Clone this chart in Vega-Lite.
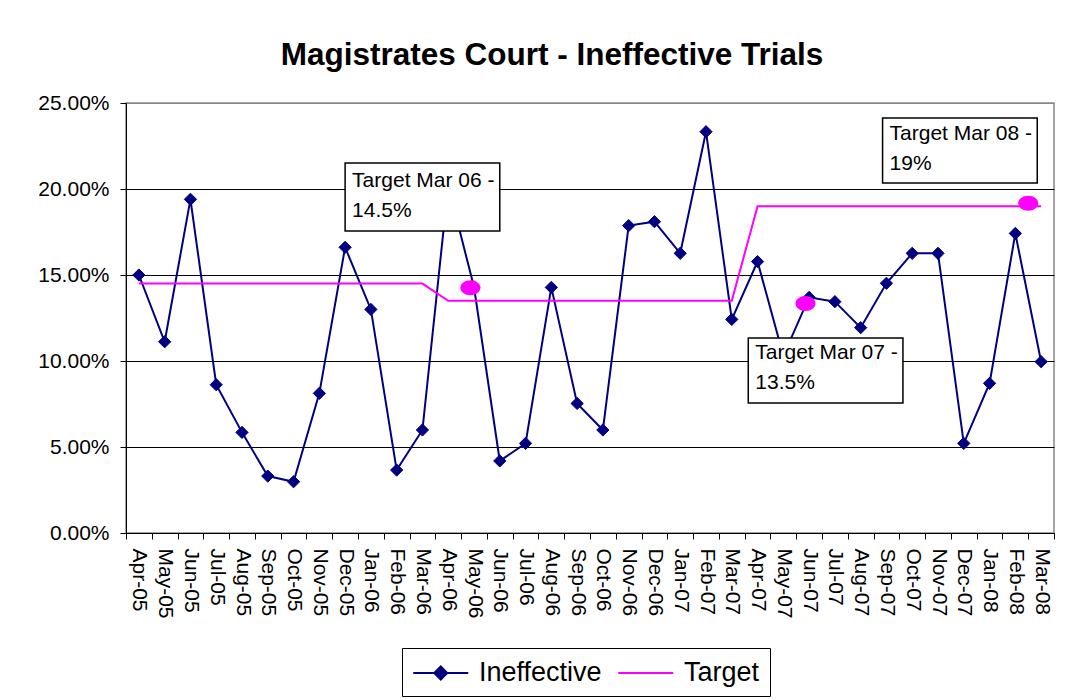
{
  "$schema": "https://vega.github.io/schema/vega-lite/v6.json",
  "width": 928,
  "height": 430,
  "autosize": {"type": "none"},
  "padding": {"left": 126, "top": 103, "right": 22, "bottom": 167},
  "background": "#ffffff",
  "title": {
    "text": "Magistrates Court - Ineffective Trials",
    "font": "Liberation Sans",
    "fontSize": 31.5,
    "fontWeight": "bold",
    "color": "#000000",
    "anchor": "middle",
    "dx": -38,
    "offset": 21
  },
  "config": {
    "view": {"stroke": "#888888", "strokeWidth": 1.5},
    "font": "Liberation Sans"
  },
  "datasets": {
    "trials": [
      {"month": "Apr-05", "series": "Ineffective", "value": 0.150},
      {"month": "May-05", "series": "Ineffective", "value": 0.1112},
      {"month": "Jun-05", "series": "Ineffective", "value": 0.194},
      {"month": "Jul-05", "series": "Ineffective", "value": 0.0862},
      {"month": "Aug-05", "series": "Ineffective", "value": 0.0585},
      {"month": "Sep-05", "series": "Ineffective", "value": 0.0331},
      {"month": "Oct-05", "series": "Ineffective", "value": 0.0298},
      {"month": "Nov-05", "series": "Ineffective", "value": 0.0812},
      {"month": "Dec-05", "series": "Ineffective", "value": 0.1661},
      {"month": "Jan-06", "series": "Ineffective", "value": 0.130},
      {"month": "Feb-06", "series": "Ineffective", "value": 0.0366},
      {"month": "Mar-06", "series": "Ineffective", "value": 0.0599},
      {"month": "Apr-06", "series": "Ineffective", "value": 0.202},
      {"month": "May-06", "series": "Ineffective", "value": 0.143},
      {"month": "Jun-06", "series": "Ineffective", "value": 0.0419},
      {"month": "Jul-06", "series": "Ineffective", "value": 0.0521},
      {"month": "Aug-06", "series": "Ineffective", "value": 0.1428},
      {"month": "Sep-06", "series": "Ineffective", "value": 0.0753},
      {"month": "Oct-06", "series": "Ineffective", "value": 0.0599},
      {"month": "Nov-06", "series": "Ineffective", "value": 0.1787},
      {"month": "Dec-06", "series": "Ineffective", "value": 0.181},
      {"month": "Jan-07", "series": "Ineffective", "value": 0.1626},
      {"month": "Feb-07", "series": "Ineffective", "value": 0.2333},
      {"month": "Mar-07", "series": "Ineffective", "value": 0.1242},
      {"month": "Apr-07", "series": "Ineffective", "value": 0.1578},
      {"month": "May-07", "series": "Ineffective", "value": 0.103},
      {"month": "Jun-07", "series": "Ineffective", "value": 0.137},
      {"month": "Jul-07", "series": "Ineffective", "value": 0.1345},
      {"month": "Aug-07", "series": "Ineffective", "value": 0.1194},
      {"month": "Sep-07", "series": "Ineffective", "value": 0.1452},
      {"month": "Oct-07", "series": "Ineffective", "value": 0.1626},
      {"month": "Nov-07", "series": "Ineffective", "value": 0.1626},
      {"month": "Dec-07", "series": "Ineffective", "value": 0.0521},
      {"month": "Jan-08", "series": "Ineffective", "value": 0.087},
      {"month": "Feb-08", "series": "Ineffective", "value": 0.1742},
      {"month": "Mar-08", "series": "Ineffective", "value": 0.0996},
      {"month": "Apr-05", "series": "Target", "value": 0.145},
      {"month": "May-05", "series": "Target", "value": 0.145},
      {"month": "Jun-05", "series": "Target", "value": 0.145},
      {"month": "Jul-05", "series": "Target", "value": 0.145},
      {"month": "Aug-05", "series": "Target", "value": 0.145},
      {"month": "Sep-05", "series": "Target", "value": 0.145},
      {"month": "Oct-05", "series": "Target", "value": 0.145},
      {"month": "Nov-05", "series": "Target", "value": 0.145},
      {"month": "Dec-05", "series": "Target", "value": 0.145},
      {"month": "Jan-06", "series": "Target", "value": 0.145},
      {"month": "Feb-06", "series": "Target", "value": 0.145},
      {"month": "Mar-06", "series": "Target", "value": 0.145},
      {"month": "Apr-06", "series": "Target", "value": 0.135},
      {"month": "May-06", "series": "Target", "value": 0.135},
      {"month": "Jun-06", "series": "Target", "value": 0.135},
      {"month": "Jul-06", "series": "Target", "value": 0.135},
      {"month": "Aug-06", "series": "Target", "value": 0.135},
      {"month": "Sep-06", "series": "Target", "value": 0.135},
      {"month": "Oct-06", "series": "Target", "value": 0.135},
      {"month": "Nov-06", "series": "Target", "value": 0.135},
      {"month": "Dec-06", "series": "Target", "value": 0.135},
      {"month": "Jan-07", "series": "Target", "value": 0.135},
      {"month": "Feb-07", "series": "Target", "value": 0.135},
      {"month": "Mar-07", "series": "Target", "value": 0.135},
      {"month": "Apr-07", "series": "Target", "value": 0.19},
      {"month": "May-07", "series": "Target", "value": 0.19},
      {"month": "Jun-07", "series": "Target", "value": 0.19},
      {"month": "Jul-07", "series": "Target", "value": 0.19},
      {"month": "Aug-07", "series": "Target", "value": 0.19},
      {"month": "Sep-07", "series": "Target", "value": 0.19},
      {"month": "Oct-07", "series": "Target", "value": 0.19},
      {"month": "Nov-07", "series": "Target", "value": 0.19},
      {"month": "Dec-07", "series": "Target", "value": 0.19},
      {"month": "Jan-08", "series": "Target", "value": 0.19},
      {"month": "Feb-08", "series": "Target", "value": 0.19},
      {"month": "Mar-08", "series": "Target", "value": 0.19}
    ],
    "dots": [
      {"month": "May-06", "value": 0.1426},
      {"month": "Jun-07", "value": 0.1335}
    ],
    "dotsEnd": [
      {"month": "Feb-08", "value": 0.1917}
    ],
    "notes": [
      {"note": "06", "left": "Dec-05", "right": "Jun-06", "top": 0.2151, "bottom": 0.1756, "textY": 0.2012, "label": "Target Mar 06 -\n14.5%"},
      {"note": "07", "left": "Apr-07", "right": "Oct-07", "top": 0.1134, "bottom": 0.0756, "textY": 0.1012, "label": "Target Mar 07 -\n13.5%"},
      {"note": "08", "left": "Sep-07", "right": "Mar-08", "top": 0.2413, "bottom": 0.2035, "textY": 0.2285, "label": "Target Mar 08 -\n19%"}
    ]
  },
  "encoding": {
    "x": {
      "field": "month",
      "type": "nominal",
      "scale": {
        "domain": ["Apr-05","May-05","Jun-05","Jul-05","Aug-05","Sep-05","Oct-05","Nov-05","Dec-05","Jan-06","Feb-06","Mar-06","Apr-06","May-06","Jun-06","Jul-06","Aug-06","Sep-06","Oct-06","Nov-06","Dec-06","Jan-07","Feb-07","Mar-07","Apr-07","May-07","Jun-07","Jul-07","Aug-07","Sep-07","Oct-07","Nov-07","Dec-07","Jan-08","Feb-08","Mar-08"],
        "type": "band",
        "paddingInner": 0,
        "paddingOuter": 0
      },
      "axis": {
        "title": null,
        "tickBand": "extent",
        "labelAngle": 90,
        "labelFont": "Liberation Sans",
        "labelFontSize": 21,
        "labelColor": "#000000",
        "labelPadding": 9,
        "labelOverlap": false,
        "tickColor": "#000000",
        "tickSize": 6,
        "domainColor": "#000000",
        "grid": false
      }
    },
    "y": {
      "field": "value",
      "type": "quantitative",
      "scale": {"domain": [0, 0.25], "nice": false, "zero": true},
      "axis": {
        "title": null,
        "format": ".2%",
        "values": [0, 0.05, 0.1, 0.15, 0.2, 0.25],
        "labelFont": "Liberation Sans",
        "labelFontSize": 21,
        "labelColor": "#000000",
        "labelPadding": 11,
        "tickColor": "#000000",
        "tickSize": 6,
        "domainColor": "#000000",
        "grid": true,
        "gridColor": {"condition": {"test": "datum.value >= 0.25", "value": "#888888"}, "value": "#000000"},
        "gridWidth": 1
      }
    }
  },
  "layer": [
    {
      "data": {"name": "trials"},
      "mark": {"type": "line", "strokeWidth": 2},
      "encoding": {
        "stroke": {
          "field": "series",
          "type": "nominal",
          "scale": {"domain": ["Ineffective", "Target"], "range": ["#000080", "#FF00FF"]},
          "legend": {
            "title": null,
            "orient": "none",
            "legendX": 276,
            "legendY": 545,
            "direction": "horizontal",
            "labelFont": "Liberation Sans",
            "labelFontSize": 27,
            "labelColor": "#000000",
            "labelOffset": 37,
            "columnPadding": 12,
            "padding": 10,
            "strokeColor": "#000000",
            "symbolType": "M-1,0H3",
            "symbolSize": 756,
            "symbolStrokeWidth": 2,
            "encode": {
              "symbols": {
                "update": {
                  "shape": {"signal": "datum.value === 'Ineffective' ? 'M-1,0H3M1,-0.47L1.47,0L1,0.47L0.53,0Z' : 'M-1,0H3'"},
                  "fill": {"signal": "datum.value === 'Ineffective' ? '#000080' : 'transparent'"}
                }
              }
            }
          }
        }
      }
    },
    {
      "data": {"name": "trials"},
      "transform": [{"filter": "datum.series === 'Ineffective'"}],
      "mark": {"type": "point", "shape": "diamond", "filled": true, "size": 150, "color": "#000080", "stroke": "#000080", "strokeWidth": 1, "opacity": 1}
    },
    {
      "data": {"name": "dots"},
      "mark": {"type": "point", "shape": "M-1,0A1,0.75,0,1,0,1,0A1,0.75,0,1,0,-1,0Z", "filled": true, "size": 400, "color": "#FF00FF", "opacity": 1},
      "encoding": {
        "x": {"field": "month", "type": "nominal", "bandPosition": 0.36}
      }
    },
    {
      "data": {"name": "dotsEnd"},
      "mark": {"type": "point", "shape": "M-1,0A1,0.75,0,1,0,1,0A1,0.75,0,1,0,-1,0Z", "filled": true, "size": 400, "color": "#FF00FF", "opacity": 1},
      "encoding": {
        "x": {"field": "month", "type": "nominal", "bandPosition": 1}
      }
    },
    {
      "data": {"name": "notes"},
      "transform": [{"filter": "datum.note === '06'"}],
      "mark": {"type": "rect", "fill": "#ffffff", "stroke": "#000000", "strokeWidth": 1.5},
      "encoding": {
        "x": {"field": "left", "type": "nominal", "bandPosition": 0.5},
        "x2": {"field": "right", "bandPosition": 0.5},
        "y": {"field": "top", "type": "quantitative"},
        "y2": {"field": "bottom"}
      }
    },
    {
      "data": {"name": "notes"},
      "transform": [{"filter": "datum.note === '06'"}],
      "mark": {"type": "text", "align": "left", "baseline": "alphabetic", "dx": 7, "lineBreak": "\n", "lineHeight": 30, "fontSize": 21, "font": "Liberation Sans", "color": "#000000"},
      "encoding": {
        "x": {"field": "left", "type": "nominal", "bandPosition": 0.5},
        "y": {"field": "textY", "type": "quantitative"},
        "text": {"field": "label", "type": "nominal"}
      }
    },
    {
      "data": {"name": "notes"},
      "transform": [{"filter": "datum.note === '07'"}],
      "mark": {"type": "rect", "fill": "#ffffff", "stroke": "#000000", "strokeWidth": 1.5},
      "encoding": {
        "x": {"field": "left", "type": "nominal", "bandPosition": 0.14},
        "x2": {"field": "right", "bandPosition": 0.14},
        "y": {"field": "top", "type": "quantitative"},
        "y2": {"field": "bottom"}
      }
    },
    {
      "data": {"name": "notes"},
      "transform": [{"filter": "datum.note === '07'"}],
      "mark": {"type": "text", "align": "left", "baseline": "alphabetic", "dx": 7, "lineBreak": "\n", "lineHeight": 30, "fontSize": 21, "font": "Liberation Sans", "color": "#000000"},
      "encoding": {
        "x": {"field": "left", "type": "nominal", "bandPosition": 0.14},
        "y": {"field": "textY", "type": "quantitative"},
        "text": {"field": "label", "type": "nominal"}
      }
    },
    {
      "data": {"name": "notes"},
      "transform": [{"filter": "datum.note === '08'"}],
      "mark": {"type": "rect", "fill": "#ffffff", "stroke": "#000000", "strokeWidth": 1.5},
      "encoding": {
        "x": {"field": "left", "type": "nominal", "bandPosition": 0.35},
        "x2": {"field": "right", "bandPosition": 0.35},
        "y": {"field": "top", "type": "quantitative"},
        "y2": {"field": "bottom"}
      }
    },
    {
      "data": {"name": "notes"},
      "transform": [{"filter": "datum.note === '08'"}],
      "mark": {"type": "text", "align": "left", "baseline": "alphabetic", "dx": 7, "lineBreak": "\n", "lineHeight": 30, "fontSize": 21, "font": "Liberation Sans", "color": "#000000"},
      "encoding": {
        "x": {"field": "left", "type": "nominal", "bandPosition": 0.35},
        "y": {"field": "textY", "type": "quantitative"},
        "text": {"field": "label", "type": "nominal"}
      }
    }
  ]
}
